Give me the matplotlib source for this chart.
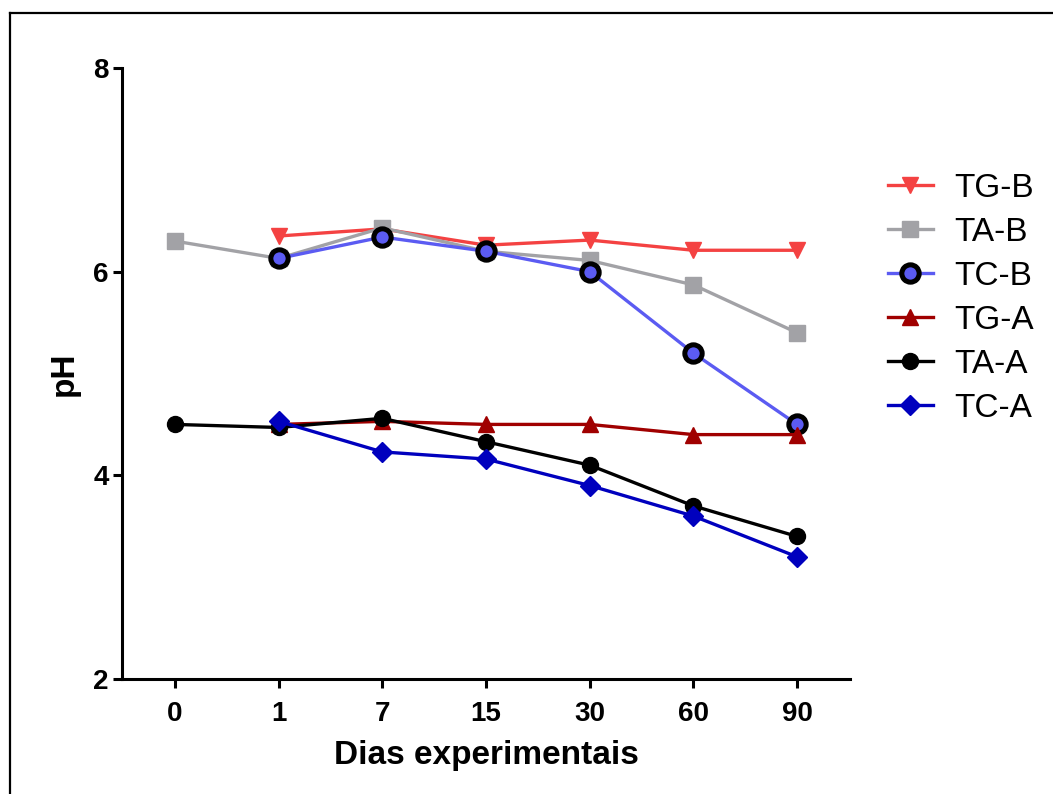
import matplotlib
matplotlib.use("Agg")
import matplotlib.pyplot as plt
from matplotlib.lines import Line2D

plt.rcParams["font.family"] = ["Liberation Sans", "DejaVu Sans"]

# days of the experiment (categorical axis)
days = ["0", "1", "7", "15", "30", "60", "90"]

tg_b = [None, 6.35, 6.42, 6.26, 6.31, 6.21, 6.21]
ta_b = [6.30, 6.13, 6.43, 6.20, 6.11, 5.87, 5.40]
tc_b = [None, 6.13, 6.34, 6.20, 6.00, 5.20, 4.50]
tg_a = [None, 4.50, 4.53, 4.50, 4.50, 4.40, 4.40]
ta_a = [4.50, 4.47, 4.56, 4.33, 4.10, 3.70, 3.40]
tc_a = [None, 4.53, 4.23, 4.16, 3.90, 3.60, 3.20]


def pts(vals):
    """Keep only the days that have a value."""
    xs = [i for i, v in enumerate(vals) if v is not None]
    ys = [v for v in vals if v is not None]
    return xs, ys


fig = plt.figure(figsize=(10.53, 7.94), dpi=100)
ax = fig.add_axes([0.1159, 0.1448, 0.6913, 0.7696])

lw = 2.4
series = [
    ("TG-B", tg_b, dict(color="#F44242", marker="v", ms=12, mec="#F44242")),
    ("TA-B", ta_b, dict(color="#A2A2A6", marker="s", ms=12, mec="#A2A2A6")),
    ("TC-B", tc_b, dict(color="#5B5BF2", marker="o", ms=12.5, mfc="#5B5BF2",
                        mec="black", mew=3.6)),
    ("TG-A", tg_a, dict(color="#A00000", marker="^", ms=12, mec="#A00000")),
    ("TA-A", ta_a, dict(color="black", marker="o", ms=11.5, mec="black")),
    ("TC-A", tc_a, dict(color="#0000BE", marker="D", ms=10.5, mec="#0000BE")),
]
for name, vals, style in series:
    xs, ys = pts(vals)
    ax.plot(xs, ys, lw=lw, label=name, **style)

ax.set_xlim(-0.51, 6.51)
ax.set_ylim(2, 8)
ax.set_xticks(range(len(days)))
ax.set_xticklabels(days)
ax.set_yticks([2, 4, 6, 8])

for side in ("top", "right"):
    ax.spines[side].set_visible(False)
for side in ("left", "bottom"):
    ax.spines[side].set_linewidth(2.2)
ax.tick_params(axis="both", direction="out", length=6.5, width=2.2,
               labelsize=20)
ax.tick_params(axis="x", pad=9)
ax.tick_params(axis="y", pad=3)
for lab in ax.get_xticklabels() + ax.get_yticklabels():
    lab.set_fontweight("bold")

ax.set_xlabel("Dias experimentais", fontsize=24, fontweight="bold", labelpad=10)
ax.set_ylabel("pH", fontsize=24, fontweight="bold", labelpad=10)

leg = fig.legend(loc="upper left", bbox_to_anchor=(0.843, 0.782),
                 frameon=False, fontsize=24, handlelength=1.35,
                 handletextpad=0.65, labelspacing=0.39, borderpad=0,
                 borderaxespad=0)

# frame around the figure (only left and top edges show in the crop)
fig.add_artist(Line2D([0.0095, 0.0095], [0.0, 0.9836], color="black",
                      lw=1.6, transform=fig.transFigure))
fig.add_artist(Line2D([0.0095, 1.0], [0.9836, 0.9836], color="black",
                      lw=1.6, transform=fig.transFigure))

fig.savefig("out.png", dpi=100)
